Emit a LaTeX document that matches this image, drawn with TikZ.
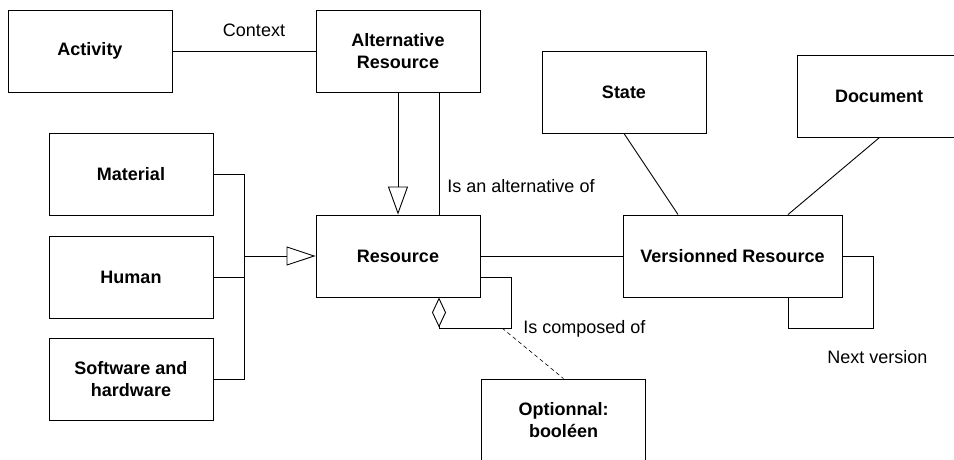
\documentclass[tikz,border=0pt]{standalone}
\usepackage{fontspec}
\setmainfont{Liberation Sans}
\usetikzlibrary{arrows.meta}
\begin{document}
\begin{tikzpicture}[x=1pt,y=-1pt,line width=0.9pt,
  box/.style={draw,rectangle,minimum width=164pt,minimum height=82pt,inner sep=0pt,align=center,font=\fontsize{18}{21.5}\selectfont\bfseries},
  lbl/.style={inner sep=0pt,font=\fontsize{18}{21.5}\selectfont},
  gen/.style={-{Triangle[open,length=28pt,width=20pt]}},
  agg/.style={-{Diamond[open,length=30pt,width=14pt]}},
  dashline/.style={dash pattern=on 4pt off 3pt,line width=0.6pt}]
\clip (0,0) rectangle (954,459);
\useasboundingbox (0,0) rectangle (954,459);
\node[box] (act) at (90,51) {Activity};
\node[box] (alt) at (398,51) {Alternative\\Resource};
\node[box] (state) at (624,92) {State};
\node[box] (doc) at (879,96.5) {Document};
\node[box] (mat) at (131,174) {Material};
\node[box] (hum) at (131,277) {Human};
\node[box] (sw) at (131,379) {Software and\\hardware};
\node[box] (res) at (398,256) {Resource};
\node[box,minimum width=219pt] (ver) at (732.5,256) {Versionned Resource};
\node[box] (opt) at (563.5,420) {Optionnal:\\booléen};
% labels
\node[lbl] (lctx) at (254,30) {Context};
\node[lbl,anchor=west] (lalt) at (447,186) {Is an alternative of};
\node[lbl,anchor=west] (lcomp) at (523,329) {Is composed of};
\node[lbl,anchor=west] (lnext) at (827,357) {Next version};
% connectors
\draw (act.east) -- (alt.west);
\draw[gen] (alt.south) -- (res.north);
\draw ([xshift=41pt]alt.south) -- ([xshift=41pt]res.north);
\coordinate (tj) at (244,174);
\coordinate (bj) at (244,379);
\coordinate (mj) at (244,256);
\draw (mat.east) -- (tj) -- (bj) -- (sw.east);
\draw (hum.east) -- (hum.east -| tj);
\draw[gen,-{Triangle[open,length=29pt,width=19pt]}] (mj) -- (res.west);
\draw (res.east) -- (ver.west);
\coordinate (rl) at (511,328);
\coordinate (dc) at (502,328);
\draw[agg] ([yshift=-21pt]res.east) -| (rl) -| ([xshift=41pt]res.south);
\draw[dashline] (dc) -- (opt.north);
\draw (state.south) -- ([xshift=-54.5pt]ver.north);
\draw (doc.south) -- ([xshift=55.5pt]ver.north);
\coordinate (vl) at (873,328);
\draw (ver.east) -| (vl) -| ([xshift=55.5pt]ver.south);
\end{tikzpicture}
\end{document}
